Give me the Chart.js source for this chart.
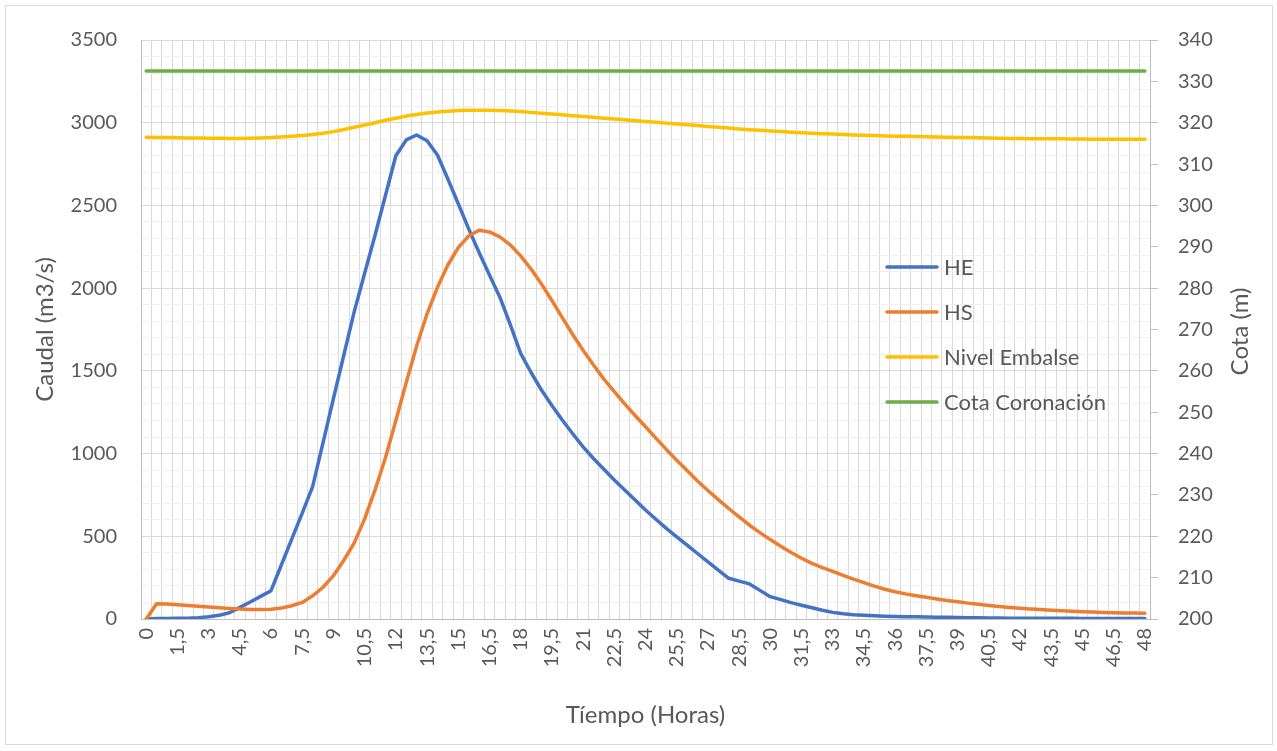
<!DOCTYPE html>
<html>
<head>
<meta charset="utf-8">
<script src="https://cdn.jsdelivr.net/npm/chart.js@4.4.1/dist/chart.umd.min.js"></script>
<style>
  html, body { margin: 0; padding: 0; background: #ffffff; }
  canvas { display: block; }
</style>
</head>
<body>
<canvas id="grafico" width="1277" height="751"></canvas>
<script>
// Tiempo en horas (paso de 0,5 h)
const horas = [
  '0','0,5','1','1,5','2','2,5','3','3,5','4','4,5','5','5,5','6','6,5','7','7,5','8','8,5','9','9,5',
  '10','10,5','11','11,5','12','12,5','13','13,5','14','14,5','15','15,5','16','16,5','17','17,5','18','18,5','19','19,5',
  '20','20,5','21','21,5','22','22,5','23','23,5','24','24,5','25','25,5','26','26,5','27','27,5','28','28,5','29','29,5',
  '30','30,5','31','31,5','32','32,5','33','33,5','34','34,5','35','35,5','36','36,5','37','37,5','38','38,5','39','39,5',
  '40','40,5','41','41,5','42','42,5','43','43,5','44','44,5','45','45,5','46','46,5','47','47,5','48'
];

// Hidrograma de entrada (m3/s)
const caudalHE = [
  0, 3, 3, 4, 5, 8, 14, 22, 38, 70, 103, 137, 171, 328, 484, 640, 800, 1066, 1333, 1596,
  1858, 2090, 2320, 2560, 2800, 2896, 2926, 2891, 2805, 2660, 2510, 2358, 2215, 2080, 1945, 1780, 1606, 1490, 1384, 1290,
  1203, 1120, 1041, 970, 905, 840, 780, 720, 659, 603, 548, 497, 447, 396, 346, 296, 246, 229, 212, 173,
  135, 117, 99, 83, 68, 53, 40, 32, 26, 22, 19, 17, 15, 14, 13, 12, 11, 10, 9, 8,
  7, 6, 6, 5, 5, 5, 4, 4, 4, 4, 3, 3, 3, 3, 3, 3, 3
];

// Hidrograma de salida (m3/s)
const caudalHS = [
  0, 92, 90, 86, 82, 77, 73, 68, 64, 60, 57, 57, 59, 67, 80, 100, 140, 192, 262, 355,
  460, 605, 780, 975, 1200, 1430, 1650, 1845, 2005, 2140, 2245, 2315, 2350, 2340, 2310, 2262, 2195, 2115, 2025, 1925,
  1822, 1720, 1625, 1535, 1450, 1375, 1300, 1230, 1162, 1093, 1025, 960, 897, 834, 777, 722, 668, 617, 567, 522,
  480, 440, 402, 367, 336, 310, 288, 264, 241, 220, 199, 180, 165, 152, 141, 131, 121, 112, 104, 96,
  89, 82, 76, 70, 65, 61, 57, 53, 50, 47, 44, 42, 40, 38, 37, 36, 35
];

// Nivel del embalse (m)
const nivelEmbalse = [
  316.5, 316.45, 316.4, 316.35, 316.3, 316.3, 316.25, 316.25, 316.2, 316.2, 316.25, 316.3, 316.4, 316.55, 316.7, 316.9, 317.15, 317.45, 317.85, 318.35,
  318.9, 319.45, 320.0, 320.6, 321.1, 321.6, 322.0, 322.35, 322.6, 322.8, 322.95, 323.0, 323.0, 323.0, 322.95, 322.85, 322.7, 322.5, 322.3, 322.1,
  321.9, 321.7, 321.5, 321.3, 321.1, 320.9, 320.7, 320.5, 320.3, 320.1, 319.9, 319.7, 319.5, 319.3, 319.1, 318.9, 318.7, 318.5, 318.3, 318.15,
  318.0, 317.85, 317.7, 317.55, 317.45, 317.35, 317.25, 317.15, 317.05, 316.95, 316.9, 316.8, 316.75, 316.7, 316.65, 316.6, 316.55, 316.5, 316.45, 316.4,
  316.35, 316.3, 316.25, 316.2, 316.2, 316.15, 316.15, 316.1, 316.1, 316.05, 316.05, 316.0, 316.0, 316.0, 316.0, 316.0, 316.0
];

// Cota de coronación de la presa (m)
const cotaCoronacion = [
  332.5, 332.5, 332.5, 332.5, 332.5, 332.5, 332.5, 332.5, 332.5, 332.5, 332.5, 332.5, 332.5, 332.5, 332.5, 332.5, 332.5, 332.5, 332.5, 332.5,
  332.5, 332.5, 332.5, 332.5, 332.5, 332.5, 332.5, 332.5, 332.5, 332.5, 332.5, 332.5, 332.5, 332.5, 332.5, 332.5, 332.5, 332.5, 332.5, 332.5,
  332.5, 332.5, 332.5, 332.5, 332.5, 332.5, 332.5, 332.5, 332.5, 332.5, 332.5, 332.5, 332.5, 332.5, 332.5, 332.5, 332.5, 332.5, 332.5, 332.5,
  332.5, 332.5, 332.5, 332.5, 332.5, 332.5, 332.5, 332.5, 332.5, 332.5, 332.5, 332.5, 332.5, 332.5, 332.5, 332.5, 332.5, 332.5, 332.5, 332.5,
  332.5, 332.5, 332.5, 332.5, 332.5, 332.5, 332.5, 332.5, 332.5, 332.5, 332.5, 332.5, 332.5, 332.5, 332.5, 332.5, 332.5
];

const TEXTO = '#595959';
const FUENTE = 'Lato, "Open Sans", "DejaVu Sans", sans-serif';
Chart.defaults.font.family = FUENTE;
Chart.defaults.color = TEXTO;

// Fondo blanco y marco del gráfico
const marco = {
  id: 'marco',
  beforeDraw(chart) {
    const ctx = chart.ctx;
    ctx.save();
    ctx.fillStyle = '#ffffff';
    ctx.fillRect(0, 0, chart.width, chart.height);
    ctx.strokeStyle = '#d9d9d9';
    ctx.lineWidth = 1;
    ctx.strokeRect(5.5, 5.5, 1267, 739);
    ctx.restore();
  }
};

// Leyenda dentro del área de trazado y título del eje secundario
const rotulos = {
  id: 'rotulos',
  afterDraw(chart) {
    const ctx = chart.ctx;
    ctx.save();
    ctx.font = '22px ' + FUENTE;
    ctx.textBaseline = 'middle';
    ctx.textAlign = 'left';
    chart.data.datasets.forEach((ds, i) => {
      const y = 267 + i * 45;
      ctx.strokeStyle = ds.borderColor;
      ctx.lineWidth = 3.5;
      ctx.lineCap = 'round';
      ctx.beginPath();
      ctx.moveTo(887, y);
      ctx.lineTo(937, y);
      ctx.stroke();
      ctx.fillStyle = TEXTO;
      ctx.fillText(ds.label, 944, y + 1);
    });
    const a = chart.chartArea;
    ctx.font = '24px ' + FUENTE;
    ctx.translate(1240, (a.top + a.bottom) / 2 + 2);
    ctx.rotate(-Math.PI / 2);
    ctx.textAlign = 'center';
    ctx.fillText('Cota (m)', 0, 0);
    ctx.restore();
  }
};

const linea = (label, data, color, eje, orden) => ({
  label, data, borderColor: color, backgroundColor: color, yAxisID: eje, order: orden,
  borderWidth: 3.5, pointRadius: 0, pointHoverRadius: 0, tension: 0, fill: false,
  borderJoinStyle: 'round', borderCapStyle: 'round'
});

new Chart(document.getElementById('grafico'), {
  type: 'line',
  data: {
    labels: horas,
    datasets: [
      linea('HE', caudalHE, '#4472C4', 'y', 4),
      linea('HS', caudalHS, '#ED7D31', 'y', 3),
      linea('Nivel Embalse', nivelEmbalse, '#FFC000', 'y1', 2),
      linea('Cota Coronación', cotaCoronacion, '#70AD47', 'y1', 1)
    ]
  },
  options: {
    responsive: false,
    animation: false,
    devicePixelRatio: 1,
    layout: { padding: { top: 40, left: 0, right: 0, bottom: 0 } },
    plugins: { legend: { display: false }, tooltip: { enabled: false } },
    scales: {
      x: {
        type: 'category',
        offset: true,
        grid: { offset: true, color: '#d9d9d9', lineWidth: 1, drawTicks: false },
        border: { color: '#bfbfbf', width: 1 },
        ticks: {
          autoSkip: false, minRotation: 90, maxRotation: 90, padding: 9,
          font: { size: 20 }, color: TEXTO,
          callback: (v, i) => (i % 3 === 0 ? horas[i] : '')
        },
        title: { display: true, text: 'Tíempo (Horas)', font: { size: 24 }, color: TEXTO, padding: { top: 0, bottom: 21 } },
        afterFit: s => { s.height = 132; }
      },
      y: {
        position: 'left',
        min: 0, max: 3500,
        grid: {
          drawTicks: false, lineWidth: 1,
          color: c => (c.tick && c.tick.value % 500 === 0 ? '#d9d9d9' : '#f0f0f0')
        },
        border: { color: '#bfbfbf', width: 1 },
        ticks: {
          autoSkip: false, stepSize: 100, padding: 24, font: { size: 20 }, color: TEXTO,
          callback: v => (v % 500 === 0 ? String(v) : '')
        },
        title: { display: true, text: 'Caudal (m3/s)', font: { size: 24 }, color: TEXTO, padding: { top: 31, bottom: 0 } },
        afterFit: s => { s.width = 141; }
      },
      y1: {
        position: 'right',
        min: 200, max: 340,
        grid: { drawOnChartArea: false, color: '#bfbfbf', tickLength: 8, lineWidth: 1 },
        border: { color: '#bfbfbf', width: 1 },
        ticks: { autoSkip: false, stepSize: 10, padding: 20, font: { size: 20 }, color: TEXTO },
        afterFit: s => { s.width = 127; }
      }
    }
  },
  plugins: [marco, rotulos]
});
</script>
</body>
</html>
